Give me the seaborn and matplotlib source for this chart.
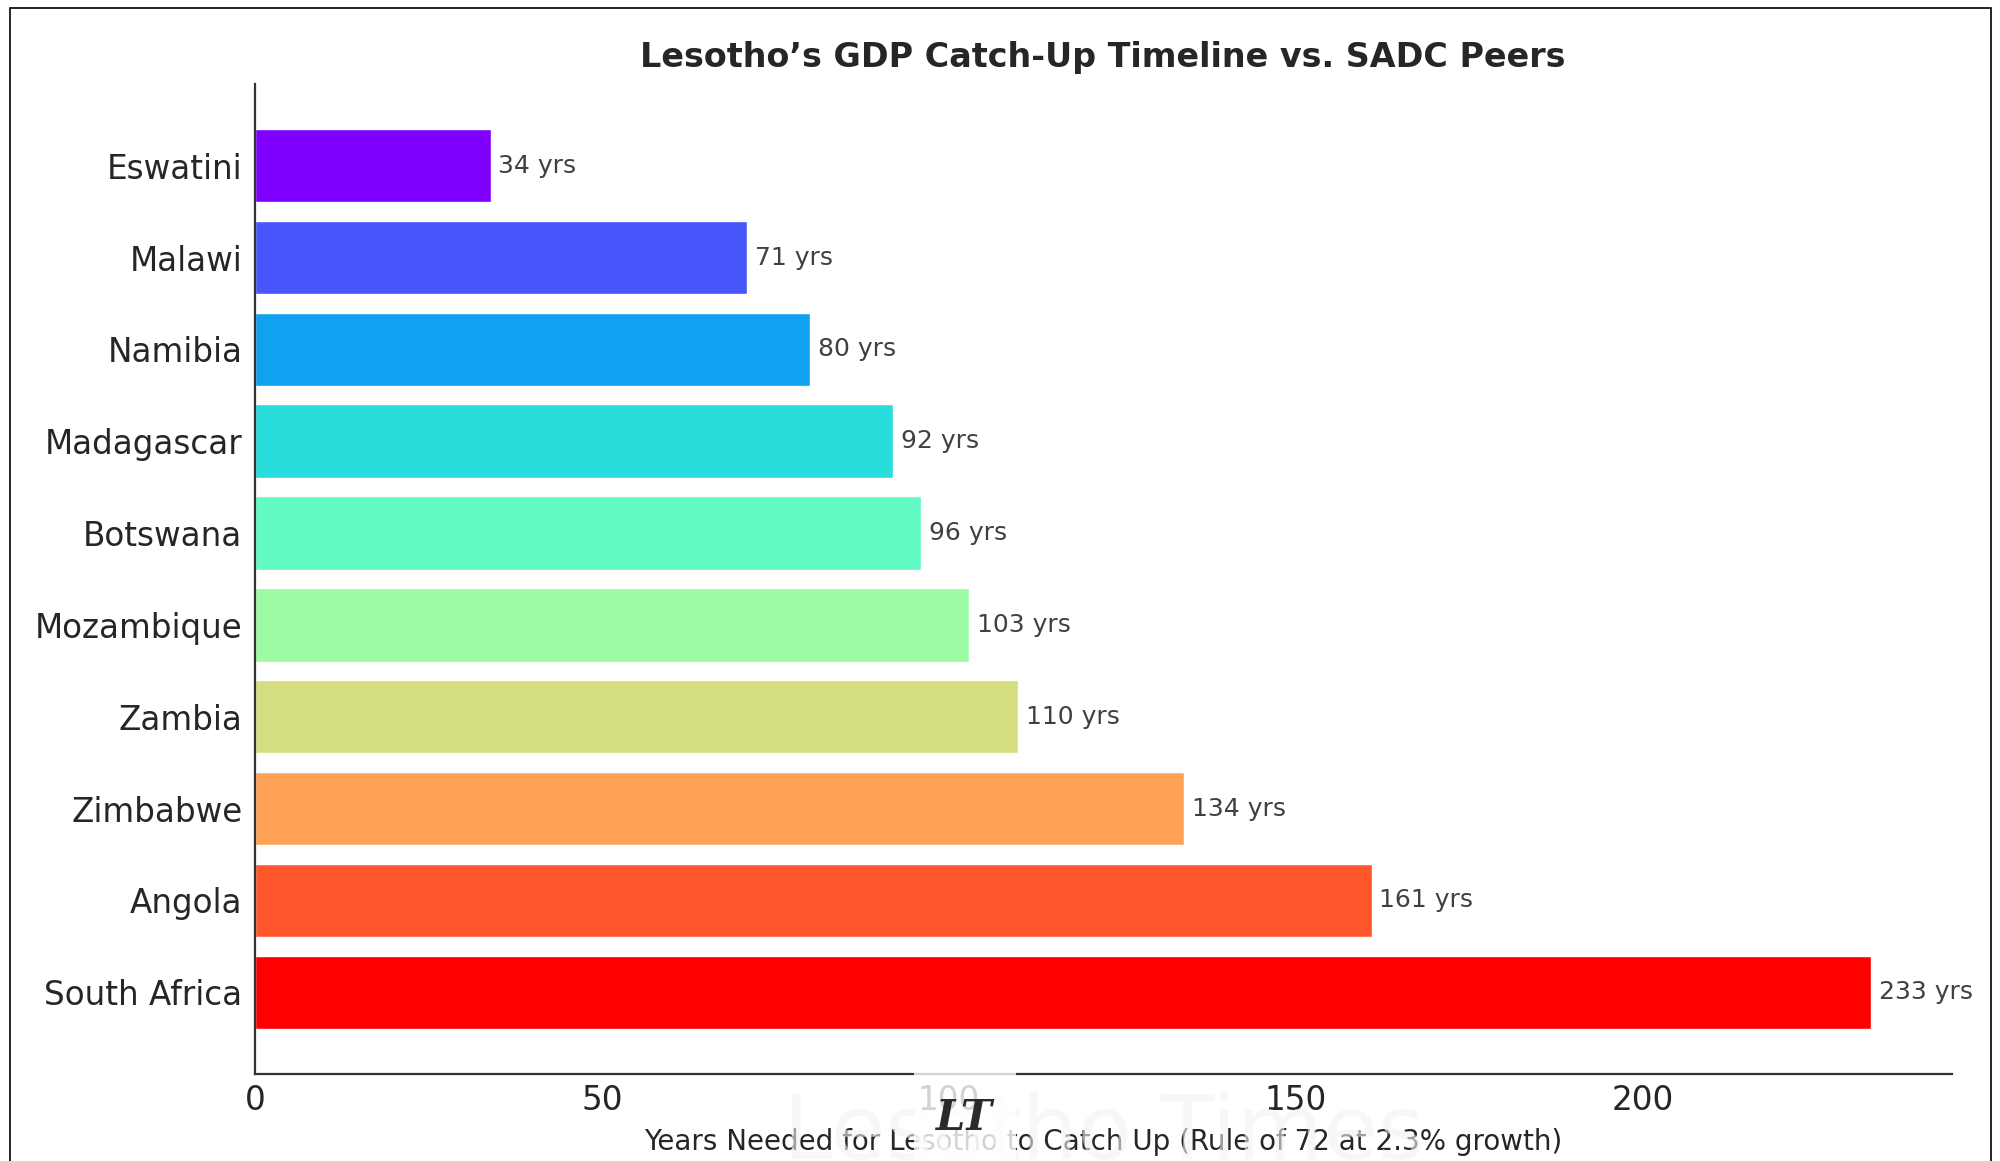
import numpy as np
import pandas as pd
import seaborn as sns
import matplotlib.pyplot as plt
from matplotlib.patches import Rectangle

countries = ["Eswatini", "Malawi", "Namibia", "Madagascar", "Botswana",
             "Mozambique", "Zambia", "Zimbabwe", "Angola", "South Africa"]
years = [34, 71, 80, 92, 96, 103, 110, 134, 161, 233]

df = pd.DataFrame({"Country": countries, "Years": years})

colors = plt.cm.rainbow(np.linspace(0, 1, len(countries)))
palette = dict(zip(countries, colors))

sns.set_style("white")
plt.rcParams["font.family"] = ["DejaVu Sans"]

fig = plt.figure(figsize=(20, 11.61), dpi=100)
ax = fig.add_axes([0.1275, 0.0749, 0.976 - 0.1275, 0.9277 - 0.0749])

sns.barplot(data=df, x="Years", y="Country", hue="Country", palette=palette,
            order=countries, orient="h", saturation=1, width=0.8,
            legend=False, ax=ax)

for i, v in enumerate(years):
    ax.text(v + 1.1, i, f"{v} yrs", va="center", ha="left",
            fontsize=18, color="#404040")

ax.set_xlim(0, max(years) * 1.05)
ax.set_ylim(len(countries) - 1 + 0.89, -0.89)
ax.set_xticks([0, 50, 100, 150, 200])

sns.despine(ax=ax)
for s in ["left", "bottom"]:
    ax.spines[s].set_color("#333333")
    ax.spines[s].set_linewidth(1.6)

ax.tick_params(axis="both", direction="in", length=6.5, width=1.2,
               colors="#333333", labelcolor="#262626", labelsize=23.5)
ax.tick_params(axis="y", pad=9)
ax.tick_params(axis="x", pad=7)
ax.set_ylabel("")
ax.set_xlabel("Years Needed for Lesotho to Catch Up (Rule of 72 at 2.3% growth)",
              fontsize=20, color="#262626", labelpad=8)

fig.text(0.5515, 0.9505, "Lesotho\u2019s GDP Catch-Up Timeline vs. SADC Peers",
         ha="center", va="center", fontsize=24, fontweight="bold",
         color="#262626")

# watermark
fig.text(0.552, -0.015, "Lesotho Times", ha="center", va="bottom",
         fontsize=64, color="#f2f2f2", alpha=0.6, zorder=0)
fig.patches.append(Rectangle((0.457, 0.0), 0.051, 0.087,
                             transform=fig.transFigure, facecolor="white",
                             alpha=0.8, edgecolor="none", zorder=6))
fig.text(0.482, 0.037, "LT", ha="center", va="center", fontsize=30,
         family="DejaVu Serif", fontstyle="italic", fontweight="bold",
         color="#2a2a2a", zorder=7)

# outer frame
fig.patches.append(Rectangle((0.005, -0.02), 0.9905, 1.0131,
                             transform=fig.transFigure, fill=False,
                             edgecolor="black", linewidth=1.2, zorder=10))

fig.savefig("out.png", dpi=100)
